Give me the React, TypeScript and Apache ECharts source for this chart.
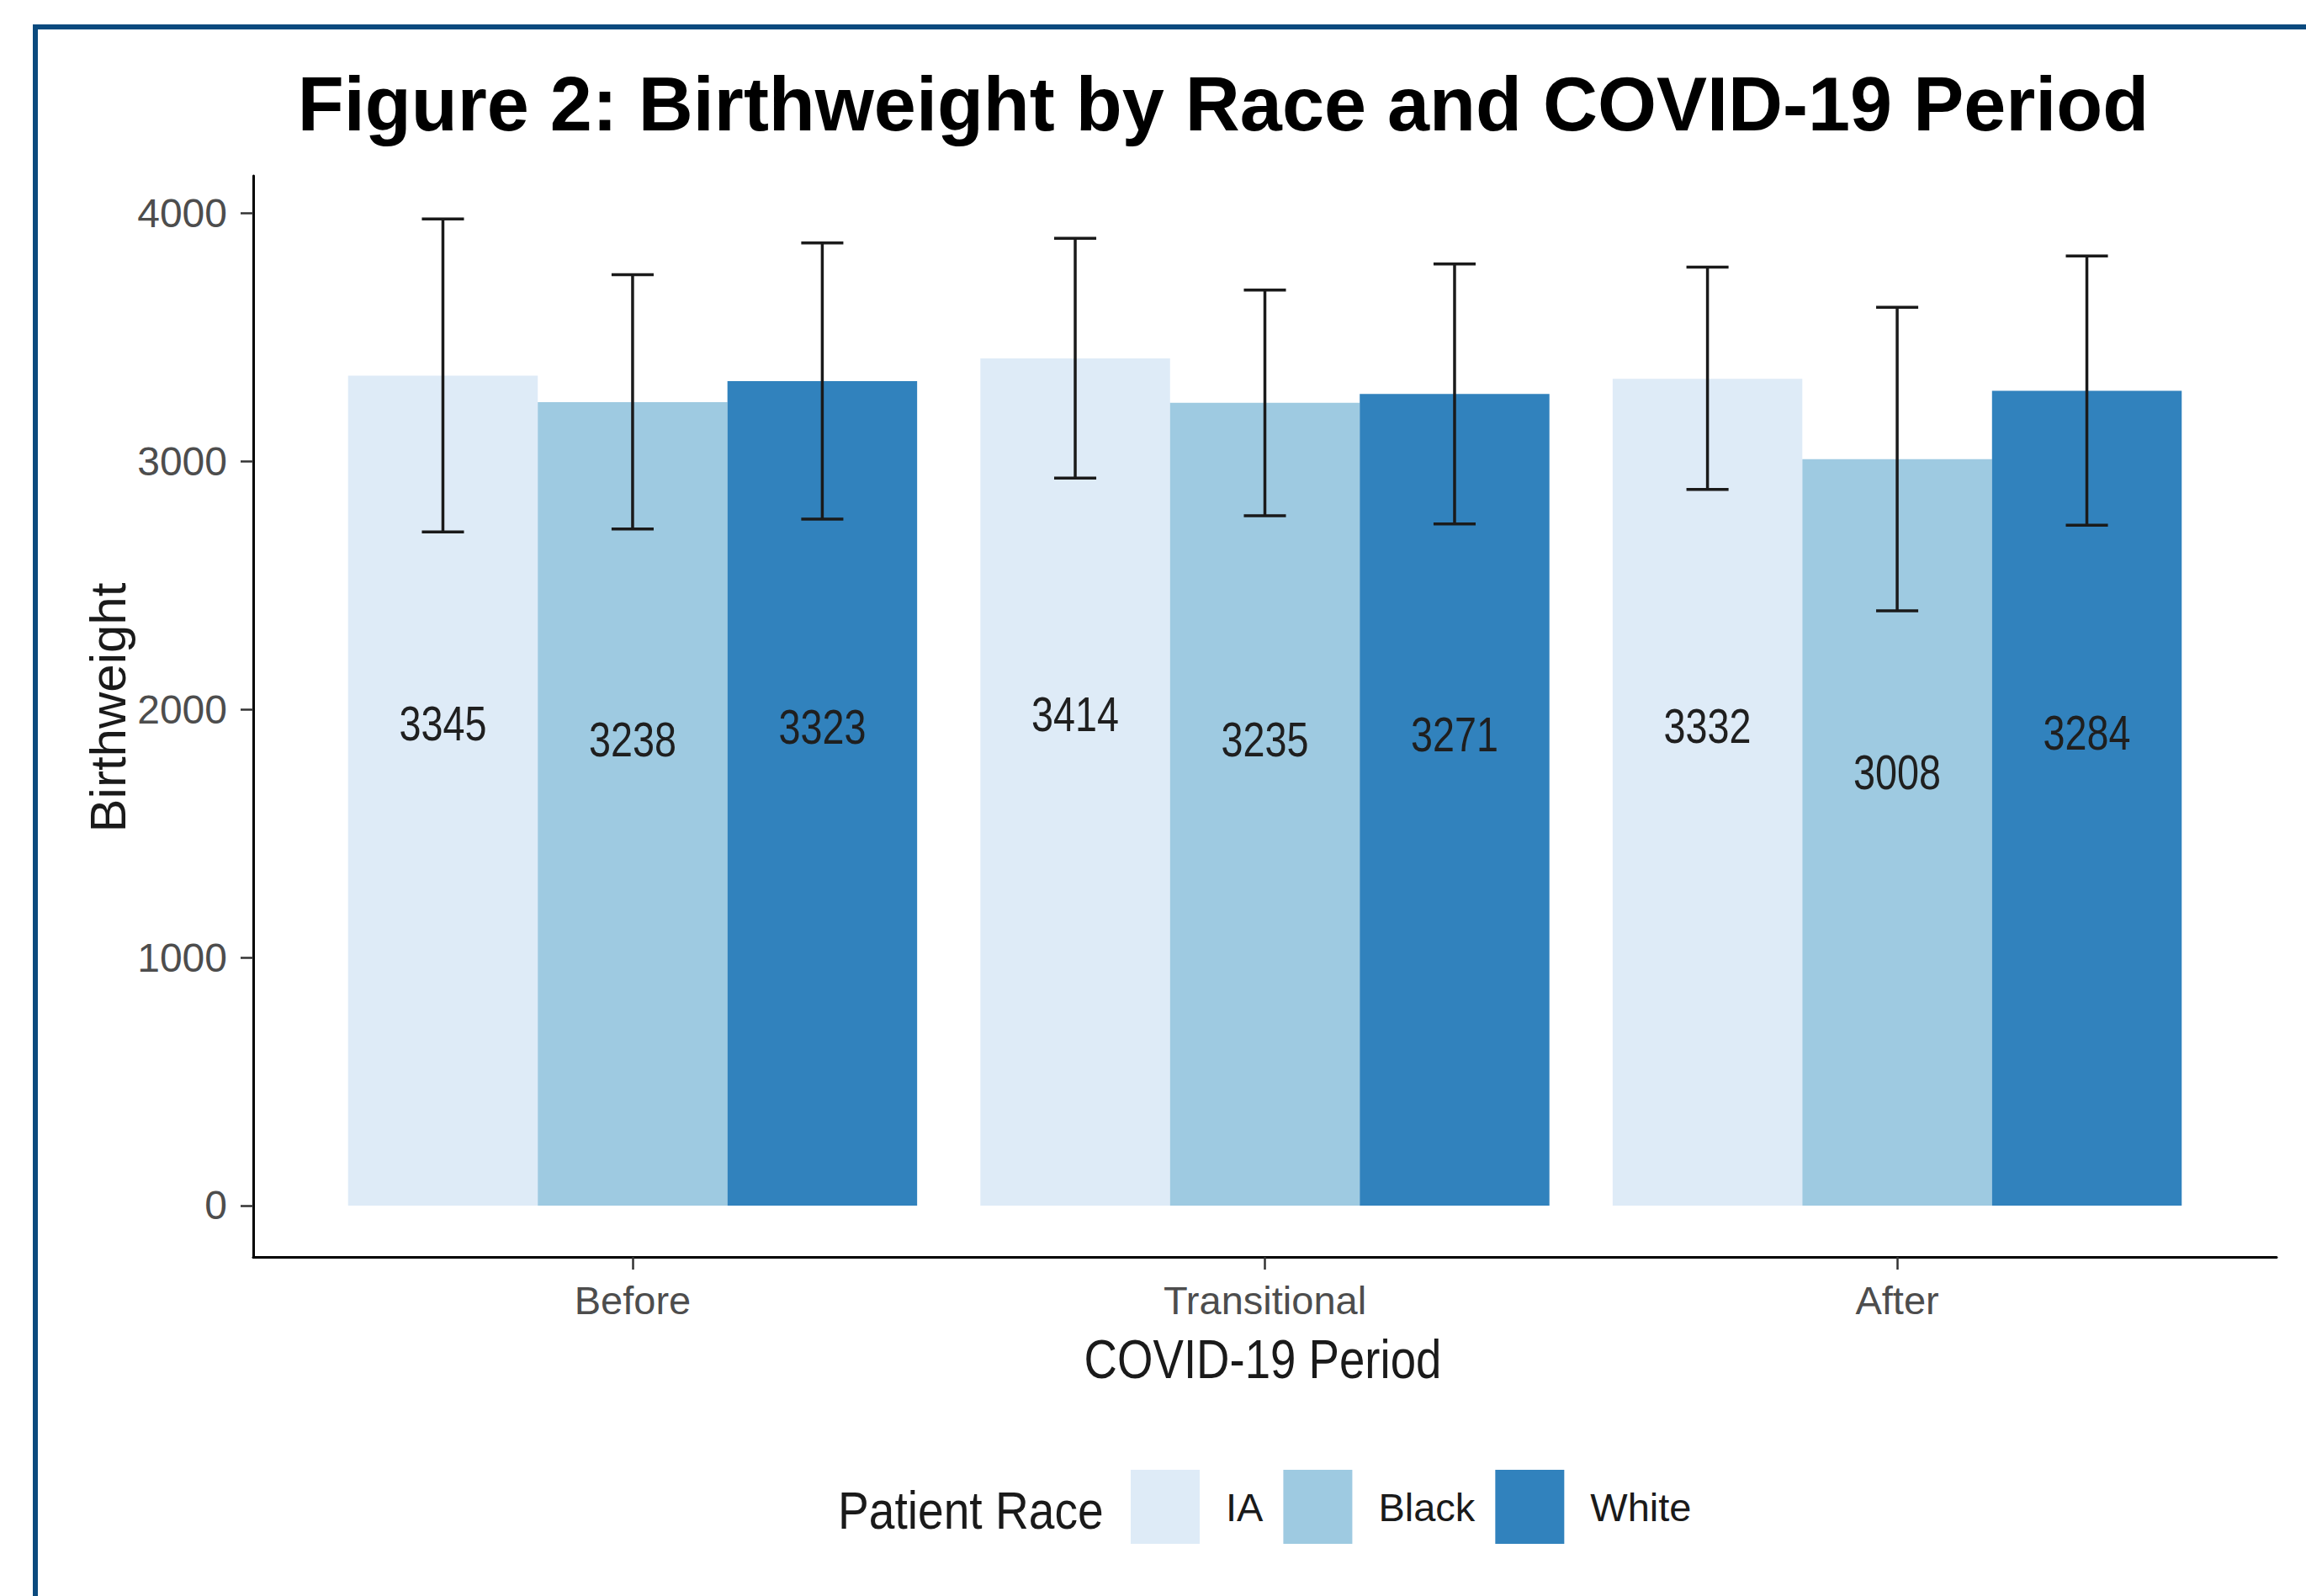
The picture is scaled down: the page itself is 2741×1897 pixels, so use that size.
import React, { useEffect, useRef } from "react";
import * as echarts from "echarts";

// ---- data ----
const PERIODS = ["Before", "Transitional", "After"];
const RACES = ["IA", "Black", "White"];
const IA_MEAN = [3345, 3414, 3332];
const BLACK_MEAN = [3238, 3235, 3008];
const WHITE_MEAN = [3323, 3271, 3284];
const IA_LOW = [2715, 2932, 2886];
const IA_HIGH = [3976, 3898, 3782];
const BLACK_LOW = [2727, 2780, 2397];
const BLACK_HIGH = [3752, 3690, 3620];
const WHITE_LOW = [2767, 2747, 2742];
const WHITE_HIGH = [3880, 3795, 3827];
const Y_TICKS = [0, 1000, 2000, 3000, 4000];

const TITLE = "Figure 2: Birthweight by Race and COVID-19 Period";
const X_NAME = "COVID-19 Period";
const Y_NAME = "Birthweight";
const LEGEND_TITLE = "Patient Race";

// ---- styling ----
const COLORS = ["#deebf7", "#9ecae1", "#3182bd"];
const FONT = '"Liberation Sans", Arial, Helvetica, sans-serif';
const OFFSETS = [-0.3, 0, 0.3];
const HALF_BAR = 0.15;
const CAP = 0.0333;
const LABEL_FRACTION = 0.58;

const MEANS = [IA_MEAN, BLACK_MEAN, WHITE_MEAN];
const LOWS = [IA_LOW, BLACK_LOW, WHITE_LOW];
const HIGHS = [IA_HIGH, BLACK_HIGH, WHITE_HIGH];

export default function App() {
  const ref = useRef<HTMLDivElement>(null);

  useEffect(() => {
    if (!ref.current) return;
    const chart = echarts.init(ref.current, undefined, { renderer: "svg" });

    const barSeries = RACES.map((race, r) => ({
      type: "custom",
      name: race,
      itemStyle: { color: COLORS[r] },
      data: PERIODS.map((_, i) => [i + OFFSETS[r], MEANS[r][i]]),
      encode: { x: 0, y: 1 },
      z: 2,
      renderItem: (params: any, api: any) => {
        const x = api.value(0);
        const y = api.value(1);
        const p0 = api.coord([x - HALF_BAR, y]);
        const p1 = api.coord([x + HALF_BAR, 0]);
        const lp = api.coord([x, y * LABEL_FRACTION]);
        return {
          type: "group",
          children: [
            {
              type: "rect",
              shape: { x: p0[0], y: p0[1], width: p1[0] - p0[0], height: p1[1] - p0[1] },
              style: { fill: COLORS[r] },
            },
            {
              type: "text",
              x: lp[0],
              y: lp[1],
              scaleX: 0.82,
              z2: 10,
              style: {
                text: String(y),
                fontSize: 57,
                fontFamily: FONT,
                fill: "#1f1f1f",
                align: "center",
                verticalAlign: "middle",
              },
            },
          ],
        };
      },
    }));

    const errData: number[][] = [];
    RACES.forEach((_, r) => {
      PERIODS.forEach((__, i) => {
        errData.push([i + OFFSETS[r], LOWS[r][i], HIGHS[r][i]]);
      });
    });

    const errSeries = {
      type: "custom",
      name: "errorbars",
      data: errData,
      z: 5,
      renderItem: (params: any, api: any) => {
        const x = api.value(0);
        const lo = api.value(1);
        const hi = api.value(2);
        const t = api.coord([x, hi]);
        const b = api.coord([x, lo]);
        const l = api.coord([x - CAP, hi]);
        const rr = api.coord([x + CAP, hi]);
        const stroke = { stroke: "#1a1a1a", lineWidth: 3.5 };
        return {
          type: "group",
          children: [
            { type: "line", shape: { x1: t[0], y1: t[1], x2: b[0], y2: b[1] }, style: stroke },
            { type: "line", shape: { x1: l[0], y1: t[1], x2: rr[0], y2: t[1] }, style: stroke },
            { type: "line", shape: { x1: l[0], y1: b[1], x2: rr[0], y2: b[1] }, style: stroke },
          ],
        };
      },
    };

    const option: any = {
      animation: false,
      backgroundColor: "#ffffff",
      grid: { left: 301, right: 35, top: 209, bottom: 403, containLabel: false },
      xAxis: {
        type: "value",
        min: -0.6,
        max: 2.6,
        splitLine: { show: false },
        axisLine: { show: true, onZero: false, lineStyle: { color: "#000", width: 3 } },
        axisTick: { show: true, customValues: [0, 1, 2], length: 15, lineStyle: { color: "#333", width: 2.5 } },
        axisLabel: {
          customValues: [0, 1, 2],
          formatter: (v: number) => PERIODS[Math.round(v)] ?? "",
          margin: 51,
          verticalAlign: "middle",
          fontSize: 47,
          fontFamily: FONT,
          color: "#4d4d4d",
        },
      },
      yAxis: {
        type: "value",
        min: -207,
        max: 4150,
        splitLine: { show: false },
        axisLine: { show: true, onZero: false, lineStyle: { color: "#000", width: 3 } },
        axisTick: { show: true, customValues: Y_TICKS, length: 15, lineStyle: { color: "#333", width: 2.5 } },
        axisLabel: {
          customValues: Y_TICKS,
          formatter: (v: number) => String(v),
          margin: 31,
          fontSize: 48,
          fontFamily: FONT,
          color: "#4d4d4d",
        },
      },
      legend: {
        data: RACES,
        left: 1344,
        top: 1747,
        padding: 0,
        itemWidth: 82,
        itemHeight: 88,
        itemGap: 24,
        icon: "rect",
        selectedMode: false,
        textStyle: { fontSize: 47, fontFamily: FONT, color: "#1a1a1a", padding: [0, 0, 0, 26] },
      },
      graphic: [
        {
          type: "rect",
          left: 39,
          top: 29,
          shape: { x: 0, y: 0, width: 2760, height: 1900 },
          style: { fill: "none", stroke: "#0b4a7e", lineWidth: 6 },
          z: 0,
        },
        {
          type: "text",
          x: 1454,
          y: 124,
          style: {
            text: TITLE,
            fontSize: 90,
            fontWeight: "bold",
            fontFamily: FONT,
            fill: "#000",
            align: "center",
            verticalAlign: "middle",
          },
        },
        {
          type: "text",
          x: 1501,
          y: 1616,
          scaleX: 0.84,
          style: {
            text: X_NAME,
            fontSize: 65,
            fontFamily: FONT,
            fill: "#1a1a1a",
            align: "center",
            verticalAlign: "middle",
          },
        },
        {
          type: "text",
          x: 128,
          y: 841,
          rotation: Math.PI / 2,
          style: {
            text: Y_NAME,
            fontSize: 60,
            fontFamily: FONT,
            fill: "#1a1a1a",
            align: "center",
            verticalAlign: "middle",
          },
        },
        {
          type: "text",
          x: 996,
          y: 1795,
          scaleX: 0.875,
          style: {
            text: LEGEND_TITLE,
            fontSize: 63,
            fontFamily: FONT,
            fill: "#1a1a1a",
            align: "left",
            verticalAlign: "middle",
          },
        },
      ],
      series: [...barSeries, errSeries],
    };

    chart.setOption(option);
    return () => chart.dispose();
  }, []);

  return (
    <div
      ref={ref}
      style={{ position: "absolute", left: 0, top: 0, width: 2741, height: 1897, background: "#fff" }}
    />
  );
}
